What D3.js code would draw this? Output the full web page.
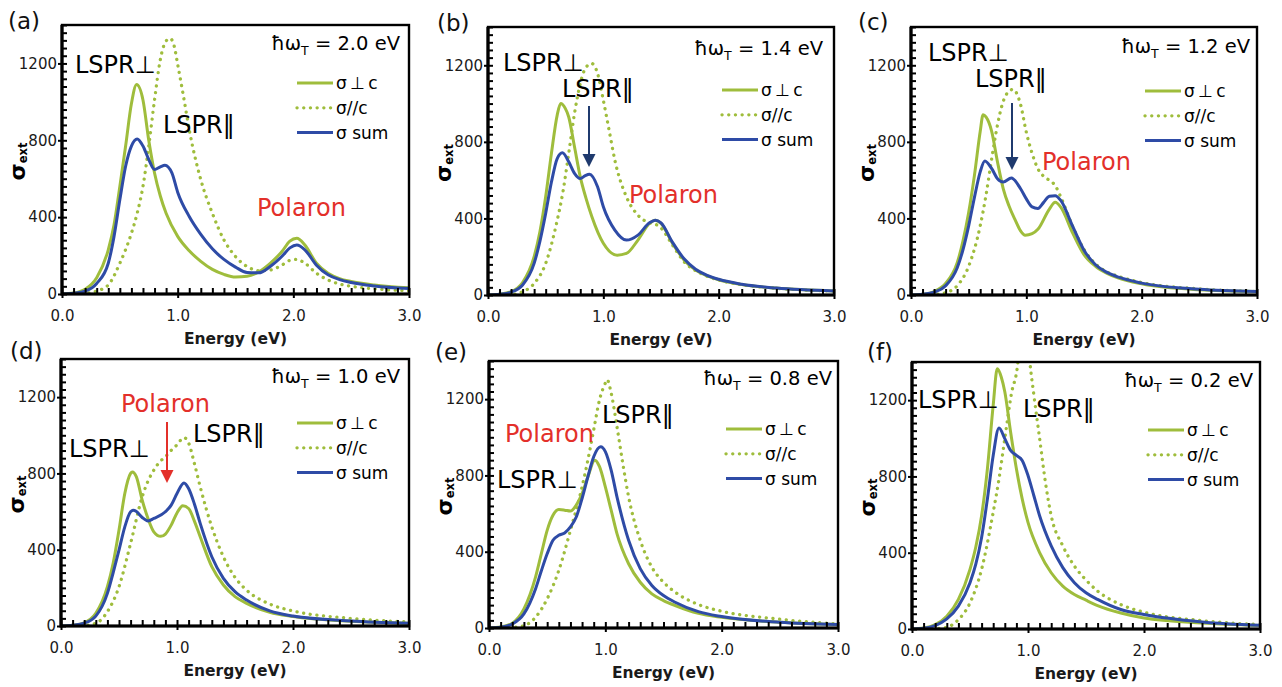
<!DOCTYPE html>
<html>
<head>
<meta charset="utf-8">
<script src="https://cdn.jsdelivr.net/npm/d3@7"></script>
<style>
body { margin: 0; background: #fff; }
svg { display: block; font-family: "DejaVu Sans", Verdana, sans-serif; }
.tick text { font-size: 15px; fill: #1a1a1a; font-family: "DejaVu Sans", Verdana, sans-serif; }
</style>
</head>
<body>
<svg id="fig" width="1282" height="687"></svg>
<script>
"use strict";

// Tick values and legend names
var energyTicks = [0, 1, 2, 3];
var sigmaTicks = [0, 400, 800, 1200];
var seriesNames = ["σ\u2009⊥\u2009c", "σ//c", "σ sum"];

// Curves, [energy (eV), sigma_ext]
// (a) hw_T = 2.0 eV
var perpA = [[0,0],[0.1,5],[0.2,25],[0.3,85],[0.4,230],[0.45,360],[0.5,560],[0.55,770],[0.6,990],[0.645,1090],[0.7,1010],[0.75,800],[0.8,630],[0.85,510],[0.9,420],[1.0,300],[1.1,225],[1.2,170],[1.3,128],[1.4,102],[1.5,88],[1.6,92],[1.7,115],[1.8,160],[1.9,220],[1.97,275],[2.03,290],[2.1,255],[2.2,160],[2.3,108],[2.4,80],[2.5,65],[2.7,47],[3.0,32]];
var parA = [[0,0],[0.1,0],[0.2,3],[0.3,15],[0.4,47],[0.5,160],[0.6,316],[0.65,420],[0.7,560],[0.75,770],[0.8,1010],[0.85,1220],[0.9,1317],[0.935,1330],[0.97,1290],[1.0,1195],[1.05,1030],[1.1,855],[1.2,595],[1.3,420],[1.4,282],[1.5,195],[1.6,143],[1.7,122],[1.8,125],[1.9,150],[1.97,175],[2.03,180],[2.1,160],[2.2,108],[2.3,73],[2.4,52],[2.5,40],[2.7,27],[3.0,17]];
var sumA = [[0,0],[0.1,4],[0.2,15],[0.3,55],[0.4,160],[0.45,300],[0.5,490],[0.55,665],[0.6,770],[0.65,807],[0.7,770],[0.75,700],[0.8,648],[0.85,662],[0.89,670],[0.95,630],[1.0,530],[1.1,403],[1.2,310],[1.3,235],[1.4,180],[1.5,140],[1.6,112],[1.7,110],[1.8,143],[1.9,195],[1.97,240],[2.03,255],[2.1,230],[2.2,150],[2.3,100],[2.4,75],[2.5,60],[2.7,42],[3.0,28]];

// (b) hw_T = 1.4 eV
var perpB = [[0,0],[0.1,4],[0.2,17],[0.3,65],[0.4,200],[0.45,330],[0.5,513],[0.55,740],[0.6,940],[0.63,1000],[0.67,975],[0.7,930],[0.75,774],[0.8,617],[0.85,505],[0.9,410],[1.0,270],[1.05,230],[1.12,208],[1.2,217],[1.3,287],[1.4,374],[1.45,391],[1.5,374],[1.6,270],[1.7,183],[1.8,130],[1.9,100],[2.0,80],[2.2,55],[2.5,36],[3.0,21]];
var parB = [[0,0],[0.2,3],[0.3,17],[0.4,60],[0.5,165],[0.6,390],[0.65,540],[0.7,740],[0.75,948],[0.8,1104],[0.85,1190],[0.9,1209],[0.95,1157],[1.0,1017],[1.05,861],[1.1,704],[1.2,513],[1.3,417],[1.4,377],[1.45,370],[1.5,350],[1.6,261],[1.7,174],[1.8,127],[1.9,98],[2.0,78],[2.2,54],[2.5,35],[3.0,21]];
var sumB = [[0,0],[0.1,4],[0.2,15],[0.3,52],[0.4,165],[0.45,280],[0.5,426],[0.55,590],[0.6,713],[0.645,743],[0.7,696],[0.75,635],[0.8,608],[0.84,622],[0.88,631],[0.95,565],[1.0,461],[1.1,339],[1.2,287],[1.3,313],[1.4,377],[1.45,391],[1.5,377],[1.6,275],[1.7,189],[1.8,135],[1.9,103],[2.0,82],[2.2,56],[2.5,36],[3.0,21]];

// (c) hw_T = 1.2 eV
var perpC = [[0,0],[0.1,4],[0.2,18],[0.3,60],[0.4,167],[0.45,280],[0.5,431],[0.55,625],[0.6,854],[0.625,942],[0.65,930],[0.7,854],[0.75,695],[0.8,555],[0.85,465],[0.9,396],[0.95,335],[0.99,312],[1.05,320],[1.1,343],[1.2,449],[1.25,484],[1.3,458],[1.4,326],[1.5,211],[1.6,150],[1.7,113],[1.8,88],[2.0,58],[2.5,27],[3.0,18]];
var parC = [[0,0],[0.2,3],[0.3,12],[0.4,48],[0.5,150],[0.6,361],[0.65,520],[0.7,713],[0.75,889],[0.8,1012],[0.85,1065],[0.885,1074],[0.95,995],[1.0,850],[1.05,740],[1.1,660],[1.15,620],[1.2,599],[1.25,572],[1.3,510],[1.4,361],[1.5,238],[1.6,162],[1.7,120],[1.8,97],[2.0,65],[2.5,32],[3.0,19]];
var sumC = [[0,0],[0.1,4],[0.2,15],[0.3,48],[0.4,141],[0.45,235],[0.5,361],[0.55,510],[0.6,643],[0.64,700],[0.7,660],[0.75,607],[0.8,590],[0.87,611],[0.95,555],[1.0,502],[1.05,460],[1.1,452],[1.15,484],[1.2,516],[1.25,519],[1.3,493],[1.4,361],[1.5,234],[1.6,158],[1.7,118],[1.8,93],[2.0,62],[2.5,30],[3.0,18]];

// (d) hw_T = 1.0 eV
var perpD = [[0,0],[0.1,4],[0.2,17],[0.3,66],[0.4,206],[0.45,330],[0.5,503],[0.55,695],[0.6,800],[0.615,808],[0.65,782],[0.7,660],[0.75,564],[0.8,494],[0.86,470],[0.9,482],[0.95,529],[1.0,593],[1.05,630],[1.1,616],[1.15,550],[1.2,468],[1.3,311],[1.4,215],[1.5,154],[1.6,119],[1.8,72],[2.0,50],[2.5,25],[3.0,14]];
var parD = [[0,0],[0.2,3],[0.3,14],[0.4,75],[0.5,206],[0.6,433],[0.7,677],[0.75,760],[0.8,817],[0.85,860],[0.9,887],[0.95,921],[1.0,950],[1.06,988],[1.1,960],[1.15,852],[1.2,730],[1.3,520],[1.4,363],[1.5,255],[1.6,188],[1.8,115],[2.0,79],[2.5,40],[3.0,21]];
var sumD = [[0,0],[0.1,4],[0.2,15],[0.3,52],[0.4,171],[0.45,280],[0.5,398],[0.55,520],[0.6,599],[0.625,607],[0.65,600],[0.7,569],[0.75,551],[0.8,564],[0.9,599],[0.95,634],[1.0,695],[1.06,750],[1.1,721],[1.15,640],[1.2,538],[1.3,363],[1.4,250],[1.5,180],[1.6,136],[1.8,79],[2.0,52],[2.5,26],[3.0,14]];

// (e) hw_T = 0.8 eV
var perpE = [[0,0],[0.1,5],[0.2,25],[0.3,100],[0.4,267],[0.45,390],[0.5,512],[0.55,591],[0.6,621],[0.65,618],[0.7,613],[0.75,644],[0.8,705],[0.85,793],[0.91,880],[0.95,846],[1.0,740],[1.05,618],[1.1,495],[1.2,337],[1.3,240],[1.4,179],[1.5,144],[1.6,118],[1.8,77],[2.0,56],[2.5,30],[3.0,18]];
var parE = [[0,0],[0.2,3],[0.3,12],[0.4,56],[0.5,153],[0.6,302],[0.7,512],[0.8,740],[0.85,881],[0.9,1039],[0.95,1196],[1.0,1284],[1.015,1302],[1.05,1232],[1.1,1056],[1.15,863],[1.2,688],[1.3,460],[1.4,319],[1.5,240],[1.6,188],[1.8,123],[2.0,88],[2.5,46],[3.0,21]];
var sumE = [[0,0],[0.1,4],[0.2,21],[0.3,74],[0.4,205],[0.45,300],[0.5,389],[0.55,460],[0.6,486],[0.65,498],[0.7,530],[0.75,582],[0.8,679],[0.85,793],[0.9,898],[0.96,950],[1.0,925],[1.05,828],[1.1,688],[1.2,460],[1.3,311],[1.4,223],[1.5,170],[1.6,135],[1.8,86],[2.0,60],[2.5,30],[3.0,18]];

// (f) hw_T = 0.2 eV
var perpF = [[0,0],[0.1,5],[0.2,23],[0.3,67],[0.4,155],[0.5,313],[0.55,430],[0.6,594],[0.65,840],[0.7,1174],[0.735,1364],[0.77,1320],[0.8,1244],[0.85,1033],[0.9,840],[0.95,682],[1.0,559],[1.1,401],[1.2,295],[1.3,225],[1.4,181],[1.5,151],[1.6,123],[1.8,84],[2.0,58],[2.5,32],[3.0,19]];
var parF = [[0,0],[0.2,2],[0.3,9],[0.4,49],[0.5,137],[0.6,313],[0.7,612],[0.75,787],[0.8,998],[0.855,1227],[0.915,1410],[0.94,1620],[0.965,1700],[0.99,1620],[1.015,1410],[1.05,1230],[1.1,1000],[1.15,770],[1.2,594],[1.3,436],[1.4,330],[1.5,257],[1.6,199],[1.8,128],[2.0,88],[2.5,44],[3.0,23]];
var sumF = [[0,0],[0.1,4],[0.2,18],[0.3,53],[0.4,120],[0.5,243],[0.55,340],[0.6,480],[0.65,682],[0.7,910],[0.75,1054],[0.8,998],[0.85,937],[0.9,910],[0.95,884],[1.0,805],[1.05,700],[1.1,594],[1.2,436],[1.3,322],[1.4,243],[1.5,190],[1.6,155],[1.8,102],[2.0,76],[2.5,37],[3.0,19]];

var green = "#9fbd3c",
	blue = "#2e4ba6",
	red = "#e3302a",
	navy = "#1f3a6e";

// Layout of each panel: plot box [left, top, right, bottom], label & annotation offsets from the plot's top-left
var panels = [
	{letter: "(a)", hw: "2.0", perp: perpA, par: parA, sum: sumA, box: [62, 25, 409, 294], letterPos: [8, 29], hwPos: [9, 25], legendY: 58,
		notes: [{t: "LSPR⊥", x: 13, y: 48}, {t: "LSPR‖", x: 101, y: 108}, {t: "Polaron", x: 195, y: 191, c: red}]},
	{letter: "(b)", hw: "1.4", perp: perpB, par: parB, sum: sumB, box: [488, 27, 834, 295], letterPos: [437, 31], hwPos: [11, 28], legendY: 63,
		notes: [{t: "LSPR⊥", x: 15, y: 44}, {t: "LSPR‖", x: 74, y: 70}, {t: "Polaron", x: 141, y: 176, c: red}],
		arrow: {x: 101, y1: 79, y2: 140, c: navy}},
	{letter: "(c)", hw: "1.2", perp: perpC, par: parC, sum: sumC, box: [911, 27, 1257, 295], letterPos: [858, 30], hwPos: [7, 26], legendY: 64,
		notes: [{t: "LSPR⊥", x: 17, y: 34}, {t: "LSPR‖", x: 64, y: 60}, {t: "Polaron", x: 131, y: 143, c: red}],
		arrow: {x: 101, y1: 76, y2: 143, c: navy}},
	{letter: "(d)", hw: "1.0", perp: perpD, par: parD, sum: sumD, box: [61, 359, 409, 626], letterPos: [10, 359], hwPos: [9, 24], legendY: 64,
		notes: [{t: "Polaron", x: 60, y: 53, c: red}, {t: "LSPR‖", x: 132, y: 83}, {t: "LSPR⊥", x: 8, y: 98}],
		arrow: {x: 106, y1: 63, y2: 124, c: red}},
	{letter: "(e)", hw: "0.8", perp: perpE, par: parE, sum: sumE, box: [489, 361, 838, 628], letterPos: [435, 360], hwPos: [6, 24], legendY: 68,
		notes: [{t: "LSPR‖", x: 113, y: 62}, {t: "Polaron", x: 16, y: 81, c: red}, {t: "LSPR⊥", x: 8, y: 127}]},
	{letter: "(f)", hw: "0.2", perp: perpF, par: parF, sum: sumF, box: [912, 362, 1260, 629], letterPos: [867, 360], hwPos: [7, 25], legendY: 68,
		notes: [{t: "LSPR⊥", x: 6, y: 46}, {t: "LSPR‖", x: 111, y: 55}]}
];

var svg = d3.select("#fig");

function styleLine(sel, kind) {
	if (kind === "par") {
		sel.attr("stroke", green)
			.attr("stroke-width", 3.3)
			.attr("stroke-linecap", "round")
			.attr("stroke-dasharray", "0.1 6.6");
	} else {
		sel.attr("stroke", kind === "sum" ? blue : green)
			.attr("stroke-width", 3);
	}
	return sel;
}

function drawPanel(p, idx) {
	var w = p.box[2] - p.box[0],
		h = p.box[3] - p.box[1];
	var g = svg.append("g")
		.attr("transform", "translate(" + p.box[0] + "," + p.box[1] + ")");

	var x = d3.scaleLinear().domain([0, 3]).range([0, w]);
	var y = d3.scaleLinear().domain([0, 1400]).range([h, 0]);

	g.append("clipPath")
		.attr("id", "clip" + idx)
		.append("rect")
		.attr("width", w)
		.attr("height", h);

	// Curves
	var line = d3.line()
		.x(function(d) { return x(d[0]); })
		.y(function(d) { return y(d[1]); })
		.curve(d3.curveMonotoneX);
	var curves = g.append("g").attr("clip-path", "url(#clip" + idx + ")");
	[["perp", p.perp], ["par", p.par], ["sum", p.sum]].forEach(function(s) {
		curves.append("path")
			.attr("fill", "none")
			.attr("d", line(s[1]))
			.call(styleLine, s[0]);
	});

	// Frame, left and bottom a bit heavier
	g.append("rect")
		.attr("width", w)
		.attr("height", h)
		.attr("fill", "none")
		.attr("stroke", "#000")
		.attr("stroke-width", 2.4);
	g.append("path")
		.attr("d", "M0,0V" + h + "H" + w)
		.attr("fill", "none")
		.attr("stroke", "#000")
		.attr("stroke-width", 3.2);

	// Minor ticks point inwards, major ones outwards
	g.append("g")
		.attr("class", "axis minor-y")
		.call(d3.axisRight(y).tickValues(d3.range(0, 1401, 40)).tickSize(5).tickFormat(""));
	g.append("g")
		.attr("class", "axis minor-x")
		.attr("transform", "translate(0," + h + ")")
		.call(d3.axisTop(x).tickValues(d3.range(0, 31).map(function(d) { return d / 10; })).tickSize(6).tickFormat(""));
	g.append("g")
		.attr("class", "axis axis-y")
		.call(d3.axisLeft(y).tickValues(sigmaTicks).tickSize(4).tickPadding(1).tickFormat(d3.format("d")));
	g.append("g")
		.attr("class", "axis axis-x")
		.attr("transform", "translate(0," + h + ")")
		.call(d3.axisBottom(x).tickValues(energyTicks).tickSize(4).tickPadding(12).tickFormat(d3.format(".1f")));
	g.selectAll(".axis .domain").remove();
	g.selectAll(".axis line").attr("stroke", "#000").attr("stroke-width", 2);

	// Axis titles
	g.append("text")
		.attr("x", w / 2)
		.attr("y", h + 50)
		.attr("text-anchor", "middle")
		.attr("font-size", "15.5px")
		.attr("font-weight", "bold")
		.attr("fill", "#1a1a1a")
		.text("Energy (eV)");
	var yTitle = g.append("text")
		.attr("transform", "translate(-37," + (h / 2 + 2) + ") rotate(-90)")
		.attr("text-anchor", "middle")
		.attr("font-weight", "bold")
		.attr("fill", "#000");
	yTitle.append("tspan").attr("font-size", "22px").text("σ");
	yTitle.append("tspan").attr("font-size", "11.5px").attr("dy", 2).text("ext");

	// Panel letter and phonon energy
	svg.append("text")
		.attr("x", p.letterPos[0])
		.attr("y", p.letterPos[1])
		.attr("font-size", "23px")
		.attr("fill", "#111")
		.text(p.letter);
	var hw = g.append("text")
		.attr("x", w - p.hwPos[0])
		.attr("y", p.hwPos[1])
		.attr("text-anchor", "end")
		.attr("font-size", "19.5px")
		.attr("fill", "#000");
	hw.append("tspan").text("ħω");
	hw.append("tspan").attr("font-size", "12.5px").attr("dy", 5).text("T");
	hw.append("tspan").attr("dy", -5).text(" = " + p.hw + " eV");

	// Legend
	var legend = g.selectAll("g.legend")
		.data(["perp", "par", "sum"])
		.enter()
		.append("g")
		.attr("class", "legend")
		.attr("transform", function(d, i) { return "translate(" + (w - 112) + "," + (p.legendY + i * 24.8) + ")"; });
	legend.append("path")
		.attr("d", "M0,0H36")
		.attr("fill", "none")
		.each(function(d) { d3.select(this).call(styleLine, d); });
	legend.append("text")
		.attr("x", 39)
		.attr("y", 6)
		.attr("font-size", "17px")
		.attr("fill", "#000")
		.text(function(d, i) { return seriesNames[i]; });

	// Peak annotations
	g.selectAll("text.note")
		.data(p.notes)
		.enter()
		.append("text")
		.attr("class", "note")
		.attr("x", function(d) { return d.x; })
		.attr("y", function(d) { return d.y; })
		.attr("font-size", "24px")
		.attr("fill", function(d) { return d.c || "#000"; })
		.text(function(d) { return d.t; });

	if (p.arrow) {
		var a = p.arrow;
		g.append("line")
			.attr("x1", a.x).attr("x2", a.x)
			.attr("y1", a.y1).attr("y2", a.y2 - 12)
			.attr("stroke", a.c)
			.attr("stroke-width", 2);
		g.append("path")
			.attr("d", "M" + (a.x - 6.5) + "," + (a.y2 - 13) + "L" + (a.x + 6.5) + "," + (a.y2 - 13) + "L" + a.x + "," + a.y2 + "Z")
			.attr("fill", a.c);
	}
}

panels.forEach(drawPanel);
</script>
</body>
</html>
